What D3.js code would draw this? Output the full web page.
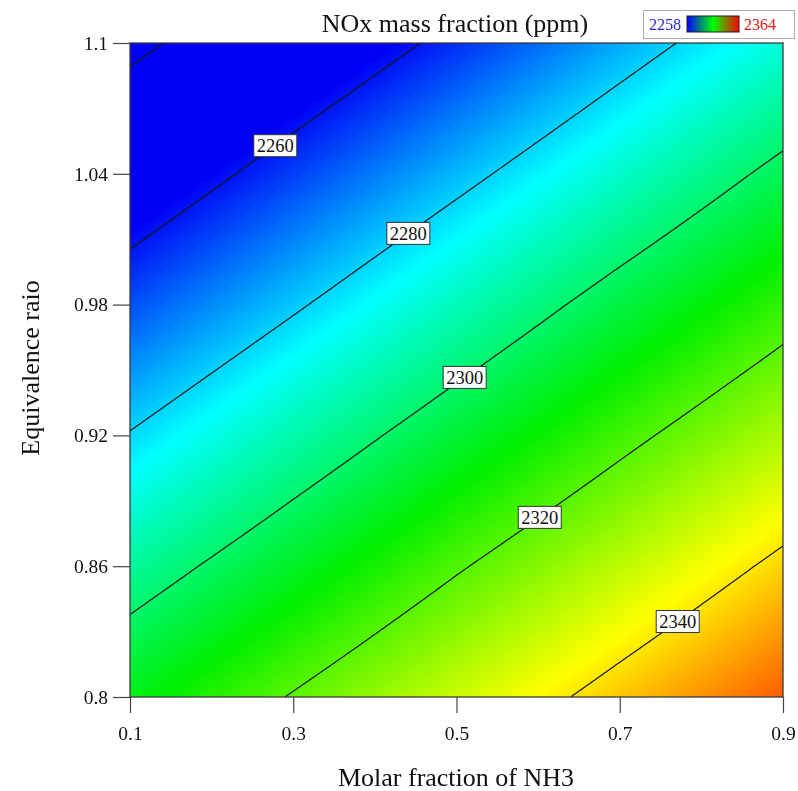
<!DOCTYPE html>
<html><head><meta charset="utf-8">
<script src="https://cdn.jsdelivr.net/npm/d3@7"></script>
<style>
body{margin:0;background:#fff}
#wrap{position:relative;width:798px;height:791px}
#wrap canvas,#wrap svg{position:absolute;left:0;top:0}
</style>
</head><body>
<div id="wrap"><canvas id="cv" width="798" height="791"></canvas><svg id="sv" width="798" height="791"></svg></div>
<script>
// ---- data ----
const xGrid = [0.1, 0.3, 0.5, 0.7, 0.9];            // molar fraction of NH3
const yGrid = [0.8, 0.86, 0.92, 0.98, 1.04, 1.1];   // equivalence ratio
const nox_080 = [2308.7, 2320.6, 2332.1, 2343.4, 2354.4];
const nox_086 = [2294.9, 2307.1, 2319.1, 2330.6, 2342.0];
const nox_092 = [2280.5, 2293.2, 2305.6, 2317.5, 2329.1];
const nox_098 = [2266.1, 2278.8, 2291.6, 2304.1, 2316.0];
const nox_104 = [2251.7, 2264.5, 2277.2, 2289.9, 2302.5];
const nox_110 = [2237.4, 2250.1, 2262.8, 2275.6, 2288.3];
const contourLevels = [2240, 2260, 2280, 2300, 2320, 2340];
const labelLevels = [2260, 2280, 2300, 2320, 2340];
const labelX = [0.278, 0.441, 0.510, 0.602, 0.771];
const xTicks = [0.1, 0.3, 0.5, 0.7, 0.9];
const yTicks = [0.8, 0.86, 0.92, 0.98, 1.04, 1.1];
const legendRange = [2258, 2364];
const colorNames = ["#0000f6", "#00ffff", "#00f000", "#ffff00", "#ff0000"];

const noxGrid = [nox_080, nox_086, nox_092, nox_098, nox_104, nox_110];

// ---- layout ----
const L = 130, R = 783, T = 43, B = 697;
const W = R - L, H = B - T;
const xScale = d3.scaleLinear().domain([0.1, 0.9]).range([L, R]);
const yScale = d3.scaleLinear().domain([0.8, 1.1]).range([B, T]);
const stops = d3.range(colorNames.length).map(i => legendRange[0] + i * (legendRange[1] - legendRange[0]) / (colorNames.length - 1));
const color = d3.scaleLinear().domain(stops).range(colorNames).interpolate(d3.interpolateRgb).clamp(true);

function field(x, y) {
  let i = Math.min(Math.max(d3.bisectRight(xGrid, x) - 1, 0), xGrid.length - 2);
  let j = Math.min(Math.max(d3.bisectRight(yGrid, y) - 1, 0), yGrid.length - 2);
  const tx = (x - xGrid[i]) / (xGrid[i + 1] - xGrid[i]);
  const ty = (y - yGrid[j]) / (yGrid[j + 1] - yGrid[j]);
  const a = noxGrid[j][i], b = noxGrid[j][i + 1], c = noxGrid[j + 1][i], d = noxGrid[j + 1][i + 1];
  return (a * (1 - tx) + b * tx) * (1 - ty) + (c * (1 - tx) + d * tx) * ty;
}

// ---- colour field on canvas ----
const values = new Float64Array(W * H);
for (let r = 0; r < H; r++) {
  const y = yScale.invert(T + r + 0.5);
  for (let c = 0; c < W; c++) {
    values[r * W + c] = field(xScale.invert(L + c + 0.5), y);
  }
}
const ctx = document.getElementById("cv").getContext("2d");
const img = ctx.createImageData(W, H);
for (let k = 0; k < W * H; k++) {
  const col = d3.rgb(color(values[k]));
  img.data[4 * k] = col.r; img.data[4 * k + 1] = col.g; img.data[4 * k + 2] = col.b; img.data[4 * k + 3] = 255;
}
ctx.putImageData(img, L, T);

const svg = d3.select("#sv");
const serif = "'Liberation Serif','Times New Roman',serif";

// ---- contour lines ----
const contours = d3.contours().size([W, H]).thresholds(contourLevels)(values);
function onEdge(p, q) {
  return (p[0] === 0 && q[0] === 0) || (p[0] === W && q[0] === W) || (p[1] === 0 && q[1] === 0) || (p[1] === H && q[1] === H);
}
let pathStr = "";
contours.forEach(ct => {
  ct.coordinates.forEach(poly => poly.forEach(ring => {
    let pen = false;
    for (let k = 1; k < ring.length; k++) {
      const p = ring[k - 1], q = ring[k];
      if (onEdge(p, q)) { pen = false; continue; }
      if (!pen) { pathStr += "M" + (L + p[0]).toFixed(2) + "," + (T + p[1]).toFixed(2); pen = true; }
      pathStr += "L" + (L + q[0]).toFixed(2) + "," + (T + q[1]).toFixed(2);
    }
  }));
});
svg.append("path").attr("d", pathStr).attr("fill", "none").attr("stroke", "#151515").attr("stroke-width", 1.2);

// ---- frame ----
svg.append("rect").attr("x", L).attr("y", T).attr("width", W).attr("height", H)
  .attr("fill", "none").attr("stroke", "#3a3a3a").attr("stroke-width", 1.3);

// ---- contour labels ----
function yForLevel(x, level) {
  let lo = 0.8, hi = 1.1;
  for (let k = 0; k < 50; k++) {
    const mid = (lo + hi) / 2;
    if (field(x, mid) > level) lo = mid; else hi = mid;
  }
  return (lo + hi) / 2;
}
labelLevels.forEach((lv, i) => {
  const px = xScale(labelX[i]), py = yScale(yForLevel(labelX[i], lv));
  const g = svg.append("g").attr("transform", `translate(${px},${py})`);
  const t = g.append("text").attr("text-anchor", "middle").attr("dy", "0.35em")
    .attr("font-family", serif).attr("font-size", 18.5).attr("fill", "#111").text(lv);
  const bb = t.node().getBBox();
  g.insert("rect", "text").attr("x", bb.x - 3).attr("y", -11).attr("width", bb.width + 6).attr("height", 22)
    .attr("fill", "#fff").attr("stroke", "#333").attr("stroke-width", 1);
});

// ---- axes ----
const fmt = d => String(d);
const xAxis = svg.append("g").attr("transform", `translate(0,${B})`)
  .call(d3.axisBottom(xScale).tickValues(xTicks).tickFormat(fmt).tickSize(16).tickPadding(13));
const yAxis = svg.append("g").attr("transform", `translate(${L},0)`)
  .call(d3.axisLeft(yScale).tickValues(yTicks).tickFormat(fmt).tickSize(17).tickPadding(5));
[xAxis, yAxis].forEach(a => {
  a.select(".domain").remove();
  a.selectAll(".tick line").attr("stroke", "#444").attr("stroke-width", 1.2);
  a.selectAll(".tick text").attr("font-family", serif).attr("font-size", 19.5).attr("fill", "#111");
});

// ---- titles ----
svg.append("text").attr("x", 455).attr("y", 32).attr("text-anchor", "middle")
  .attr("font-family", serif).attr("font-size", 26).attr("fill", "#111").text("NOx mass fraction (ppm)");
svg.append("text").attr("x", 456).attr("y", 786).attr("text-anchor", "middle")
  .attr("font-family", serif).attr("font-size", 26).attr("fill", "#111").text("Molar fraction of NH3");
svg.append("text").attr("transform", "translate(30,368) rotate(-90)").attr("text-anchor", "middle")
  .attr("dy", "0.35em").attr("font-family", serif).attr("font-size", 26).attr("fill", "#111").text("Equivalence raio");

// ---- legend ----
const lg = svg.append("g");
lg.append("rect").attr("x", 643.5).attr("y", 10.5).attr("width", 151).attr("height", 28)
  .attr("fill", "#fff").attr("stroke", "#aaa");
const grad = svg.append("defs").append("linearGradient").attr("id", "lgGrad");
grad.selectAll("stop").data(["#0000ff", "#00ff00", "#ff0000"]).join("stop")
  .attr("offset", (d, i) => i / 2).attr("stop-color", d => d);
lg.append("rect").attr("x", 687).attr("y", 16).attr("width", 52).attr("height", 16)
  .attr("fill", "url(#lgGrad)").attr("stroke", "#222");
lg.append("text").attr("x", 665).attr("y", 24).attr("dy", "0.35em").attr("text-anchor", "middle")
  .attr("font-family", serif).attr("font-size", 16).attr("fill", "#2a2ad0").text(legendRange[0]);
lg.append("text").attr("x", 760).attr("y", 24).attr("dy", "0.35em").attr("text-anchor", "middle")
  .attr("font-family", serif).attr("font-size", 16).attr("fill", "#e02020").text(legendRange[1]);
</script>
</body></html>
